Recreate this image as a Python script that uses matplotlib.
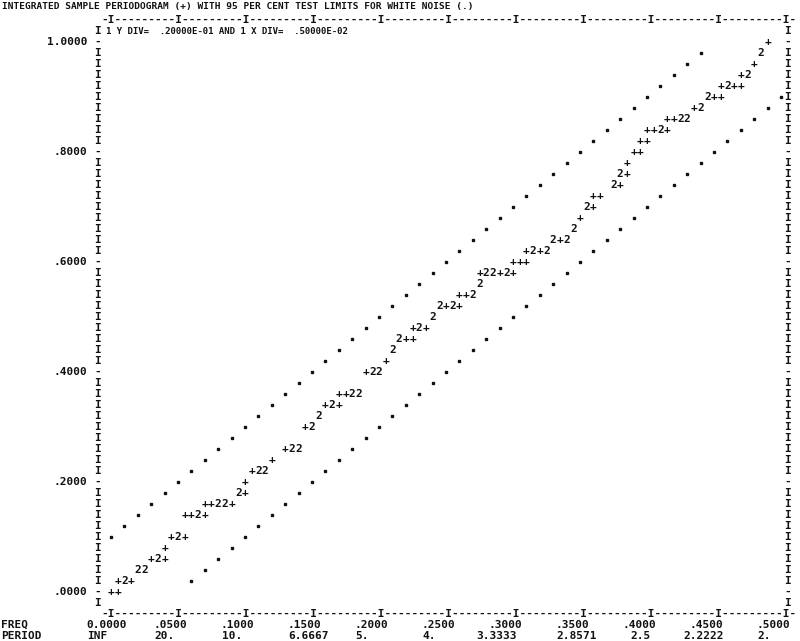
import matplotlib.pyplot as plt
from collections import Counter

# Integrated sample periodogram.
# Each level lists the frequencies whose cumulative value falls on that line;
# a frequency listed twice means two points share one print cell ("2").
levels = [0.00, 0.02, 0.04, 0.06, 0.08, 0.10, 0.14, 0.16, 0.18, 0.20,
          0.22, 0.24, 0.26, 0.30, 0.32, 0.34, 0.36, 0.40, 0.42, 0.44,
          0.46, 0.48, 0.50, 0.52, 0.54, 0.56, 0.58, 0.60, 0.62, 0.64,
          0.66, 0.68, 0.70, 0.72, 0.74, 0.76, 0.78, 0.80, 0.82, 0.84,
          0.86, 0.88, 0.90, 0.92, 0.94, 0.96, 0.98, 1.00]
freqs_at_level = [
    [0.000, 0.005],
    [0.005, 0.010, 0.010, 0.015],
    [0.020, 0.020, 0.025, 0.025],
    [0.030, 0.035, 0.035, 0.040],
    [0.040],
    [0.045, 0.050, 0.050, 0.055],
    [0.055, 0.060, 0.065, 0.065, 0.070],
    [0.070, 0.075, 0.080, 0.080, 0.085, 0.085, 0.090],
    [0.095, 0.095, 0.100],
    [0.100],
    [0.105, 0.110, 0.110, 0.115, 0.115],
    [0.120],
    [0.130, 0.135, 0.135, 0.140, 0.140],
    [0.145, 0.150, 0.150],
    [0.155, 0.155],
    [0.160, 0.165, 0.165, 0.170],
    [0.170, 0.175, 0.180, 0.180, 0.185, 0.185],
    [0.190, 0.195, 0.195, 0.200, 0.200],
    [0.205],
    [0.210, 0.210],
    [0.215, 0.215, 0.220, 0.225],
    [0.225, 0.230, 0.230, 0.235],
    [0.240, 0.240],
    [0.245, 0.245, 0.250, 0.255, 0.255, 0.260],
    [0.260, 0.265, 0.270, 0.270],
    [0.275, 0.275],
    [0.275, 0.280, 0.280, 0.285, 0.285, 0.290, 0.295, 0.295, 0.300],
    [0.300, 0.305, 0.310],
    [0.310, 0.315, 0.315, 0.320, 0.325, 0.325],
    [0.330, 0.330, 0.335, 0.340, 0.340],
    [0.345, 0.345],
    [0.350],
    [0.355, 0.355, 0.360],
    [0.360, 0.365],
    [0.375, 0.375, 0.380],
    [0.380, 0.380, 0.385],
    [0.385],
    [0.390, 0.395],
    [0.395, 0.400],
    [0.400, 0.405, 0.410, 0.410, 0.415],
    [0.415, 0.420, 0.425, 0.425, 0.430, 0.430],
    [0.435, 0.440, 0.440],
    [0.445, 0.445, 0.450, 0.455],
    [0.455, 0.460, 0.460, 0.465, 0.470],
    [0.470, 0.475, 0.475],
    [0.480],
    [0.485, 0.485],
    [0.490],
]

# 95 per cent test limits for white noise (the dotted lines)
upper_freq = [0.00, 0.01, 0.02, 0.03, 0.04, 0.05, 0.06, 0.07, 0.08, 0.09,
              0.10, 0.11, 0.12, 0.13, 0.14, 0.15, 0.16, 0.17, 0.18, 0.19,
              0.20, 0.21, 0.22, 0.23, 0.24, 0.25, 0.26, 0.27, 0.28, 0.29,
              0.30, 0.31, 0.32, 0.33, 0.34, 0.35, 0.36, 0.37, 0.38, 0.39,
              0.40, 0.41, 0.42, 0.43, 0.44]
upper_val = [0.10, 0.12, 0.14, 0.16, 0.18, 0.20, 0.22, 0.24, 0.26, 0.28,
             0.30, 0.32, 0.34, 0.36, 0.38, 0.40, 0.42, 0.44, 0.46, 0.48,
             0.50, 0.52, 0.54, 0.56, 0.58, 0.60, 0.62, 0.64, 0.66, 0.68,
             0.70, 0.72, 0.74, 0.76, 0.78, 0.80, 0.82, 0.84, 0.86, 0.88,
             0.90, 0.92, 0.94, 0.96, 0.98]
lower_freq = [0.06, 0.07, 0.08, 0.09, 0.10, 0.11, 0.12, 0.13, 0.14, 0.15,
              0.16, 0.17, 0.18, 0.19, 0.20, 0.21, 0.22, 0.23, 0.24, 0.25,
              0.26, 0.27, 0.28, 0.29, 0.30, 0.31, 0.32, 0.33, 0.34, 0.35,
              0.36, 0.37, 0.38, 0.39, 0.40, 0.41, 0.42, 0.43, 0.44, 0.45,
              0.46, 0.47, 0.48, 0.49, 0.50]
lower_val = [0.02, 0.04, 0.06, 0.08, 0.10, 0.12, 0.14, 0.16, 0.18, 0.20,
             0.22, 0.24, 0.26, 0.28, 0.30, 0.32, 0.34, 0.36, 0.38, 0.40,
             0.42, 0.44, 0.46, 0.48, 0.50, 0.52, 0.54, 0.56, 0.58, 0.60,
             0.62, 0.64, 0.66, 0.68, 0.70, 0.72, 0.74, 0.76, 0.78, 0.80,
             0.82, 0.84, 0.86, 0.88, 0.90]

y_ticks = [1.0, 0.8, 0.6, 0.4, 0.2, 0.0]
y_labels = ['1.0000', '.8000', '.6000', '.4000', '.2000', '.0000']
x_ticks = [0.00, 0.05, 0.10, 0.15, 0.20, 0.25, 0.30, 0.35, 0.40, 0.45, 0.50]
freq_labels = ['0.0000', '.0500', '.1000', '.1500', '.2000', '.2500',
               '.3000', '.3500', '.4000', '.4500', '.5000']
period_labels = ['INF', '20.', '10.', '6.6667', '5.', '4.',
                 '3.3333', '2.8571', '2.5', '2.2222', '2.']

title = 'INTEGRATED SAMPLE PERIODOGRAM (+) WITH 95 PER CENT TEST LIMITS FOR WHITE NOISE (.)'
scale_note = '1 Y DIV=  .20000E-01 AND 1 X DIV=  .50000E-02'

DX, DY = 0.005, 0.02          # one print column / one print line
INK = '#111111'
mono = dict(family='DejaVu Sans Mono', fontsize=8, fontweight='bold', color=INK)

fig = plt.figure(figsize=(8, 6.41), dpi=100)
ax = fig.add_axes([111 / 800, 49 / 641, 670 / 800, 550 / 641])
ax.set_xlim(0, 0.5)
ax.set_ylim(0, 1)
ax.axis('off')


def put(col, row, s, ha='center', **kw):
    # place text on the printer grid; ha='left' puts the first char on col
    x = col * DX if ha == 'center' else (col - 0.5) * DX
    style = dict(mono, **kw)
    ax.text(x, row * DY, s, ha=ha, va='center', clip_on=False, **style)


# periodogram points, counted per print cell
pts = [(f, v) for v, fs in zip(levels, freqs_at_level) for f in fs]
cells = Counter((round(f / DX), round(v / DY)) for f, v in pts)
for (c, r), n in cells.items():
    put(c, r, '+' if n == 1 else str(n))

# test limits
for fx, fy in [(upper_freq, upper_val), (lower_freq, lower_val)]:
    ax.plot(fx, fy, ls='none', marker='s', ms=2.0, color=INK, clip_on=False)

# frame
border = '-' + ('I' + '-' * 9) * 10 + 'I' + '-'
put(-1, 52, border, ha='left')
put(-1, -2, border, ha='left')
for r in range(-1, 52):
    ch = '-' if (r % 10 == 0 and 0 <= r <= 50) else 'I'
    put(-2, r, ch)
    put(101, r, ch)
put(-0.2, 51, scale_note, ha='left', fontsize=6.5)

for y, lab in zip(y_ticks, y_labels):
    ax.text(-3.5 * DX, y, lab, ha='right', va='center', clip_on=False, **mono)

# bottom scale
period_shift = [0, 0, 0, 0, 0, 0, -2, 0, 1, -1, 0]
left_edge = -110 / 670 * 0.5
ax.text(left_edge, -3 * DY, 'FREQ', ha='left', va='center', clip_on=False, **mono)
ax.text(left_edge, -4 * DY, 'PERIOD', ha='left', va='center', clip_on=False, **mono)
for x, fl, pl, sh in zip(x_ticks, freq_labels, period_labels, period_shift):
    c = round(x / DX)
    put(c - 3.2, -3, fl, ha='left')
    put(c - 3.0 + sh, -4, pl, ha='left')

fig.text(0.002, 1 - 6 / 641, title, ha='left', va='center',
         **dict(mono, fontsize=6.8))

fig.savefig('out.png', dpi=100, facecolor='white')
